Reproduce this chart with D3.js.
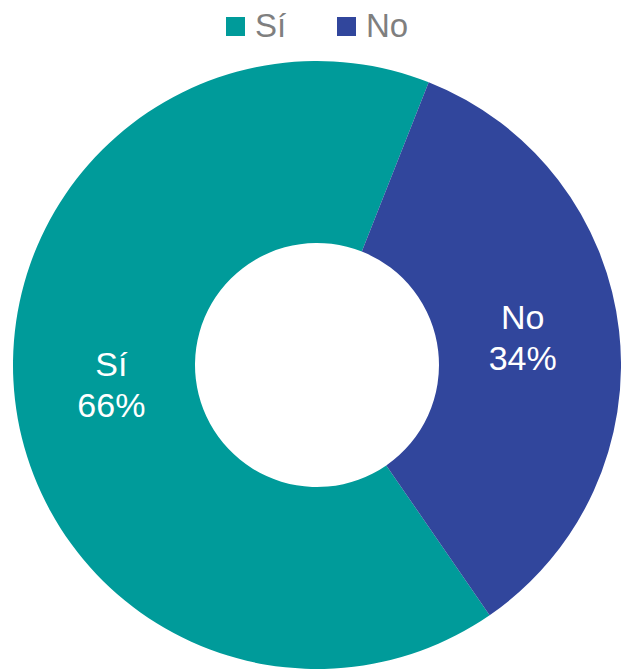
<!DOCTYPE html>
<html>
<head>
<meta charset="utf-8">
<script src="https://cdn.jsdelivr.net/npm/d3@7"></script>
<style>
  body { margin: 0; background: #fff; }
  svg { display: block; font-family: Arial, "Liberation Sans", sans-serif; }
</style>
</head>
<body>
<div id="chart"></div>
<script>
var categories = ["Sí", "No"];
var values = [65.6, 34.4];
var colors = ["#009b9a", "#31469c"];

var width = 621,
    height = 671,
    cx = 317,
    cy = 365,
    outerRadius = 304,
    innerRadius = 122;

var data = categories.map(function(c, i) { return { name: c, value: values[i] }; });
var total = d3.sum(values);

var color = d3.scaleOrdinal().domain(categories).range(colors);

var svg = d3.select("#chart").append("svg")
    .attr("width", width)
    .attr("height", height);

// first slice (Sí) starts at about 145 degrees, clockwise
var start = 145.4 * Math.PI / 180;
var pie = d3.pie()
    .sort(null)
    .value(function(d) { return d.value; })
    .startAngle(start)
    .endAngle(start + 2 * Math.PI);

var arc = d3.arc()
    .innerRadius(innerRadius)
    .outerRadius(outerRadius);

var g = svg.append("g")
    .attr("transform", "translate(" + cx + "," + cy + ")");

var slices = g.selectAll("g.slice")
    .data(pie(data))
  .enter().append("g")
    .attr("class", "slice");

slices.append("path")
    .attr("d", arc)
    .attr("fill", function(d) { return color(d.data.name); });

var labelArc = d3.arc()
    .innerRadius(207)
    .outerRadius(207);

var label = slices.append("text")
    .attr("transform", function(d) {
      var c = labelArc.centroid(d);
      return "translate(" + c[0] + "," + (c[1] - 4) + ")";
    })
    .attr("text-anchor", "middle")
    .attr("fill", "#fff")
    .style("font-size", "34px");

label.append("tspan")
    .attr("x", 0)
    .attr("y", -8.5)
    .text(function(d) { return d.data.name; });

label.append("tspan")
    .attr("x", 0)
    .attr("y", 32.5)
    .text(function(d) { return Math.round(d.data.value / total * 100) + "%"; });

// legend
var legendX = [226, 337];
var legend = svg.selectAll("g.legend")
    .data(categories)
  .enter().append("g")
    .attr("class", "legend")
    .attr("transform", function(d, i) { return "translate(" + legendX[i] + ",17)"; });

legend.append("rect")
    .attr("width", 19)
    .attr("height", 19)
    .attr("fill", function(d) { return color(d); });

legend.append("text")
    .attr("x", 29)
    .attr("y", 20)
    .attr("fill", "#7f7f7f")
    .style("font-size", "33px")
    .text(function(d) { return d; });
</script>
</body>
</html>
